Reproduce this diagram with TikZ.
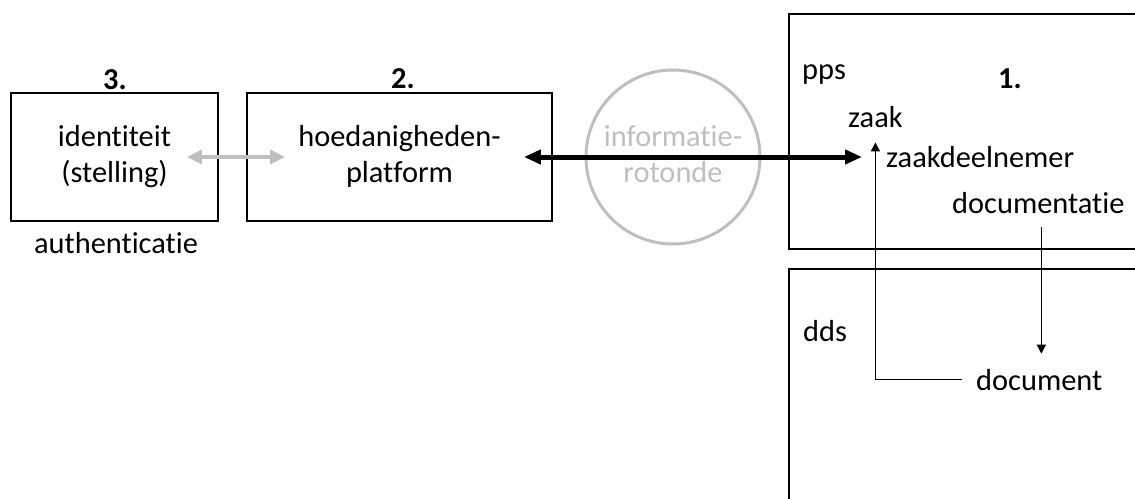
\documentclass[tikz,border=0pt]{standalone}
\usepackage{fontspec}
\setmainfont{Carlito}[Ligatures={NoCommon}]
\usetikzlibrary{arrows.meta,calc}
\definecolor{lgray}{RGB}{191,191,191}
\begin{document}
\begin{tikzpicture}[x=1pt,y=-1pt,
  every node/.style={font=\fontsize{30.4}{36}\selectfont},
  txt/.style={inner sep=0pt},
  box/.style={draw,line width=1.8pt,inner sep=0pt,align=center},
  bigarrow/.style={line width=5pt,{Triangle[length=17pt,width=14pt]}-{Triangle[length=17pt,width=14pt]}},
  greyarrow/.style={lgray,line width=4.5pt,{Triangle[length=15pt,width=14pt]}-{Triangle[length=15pt,width=14pt]}},
  thinarrow/.style={line width=1.5pt,-{Triangle[length=9pt,width=9pt]}}
]
\useasboundingbox (0,0) rectangle (1135,498);
% boxes
\node[box,minimum width=207pt,minimum height=128pt] (b3) at (114.5,157) {\strut identiteit\\\strut (stelling)};
\node[box,minimum width=305pt,minimum height=128pt] (b2) at (399.5,157) {\strut hoedanigheden-\\\strut platform};
\node[box,minimum width=450pt,minimum height=235pt,anchor=north west] (pps) at (788,13) {};
\node[box,minimum width=450pt,minimum height=300pt,anchor=north west] (dds) at (788,268) {};
\node[draw=lgray,line width=3pt,circle,minimum size=174pt,inner sep=0pt,text=lgray,align=center] (rot) at (673,157) {\strut informatie-\\\strut rotonde};
% labels
\node[txt,anchor=base,font=\fontsize{30.4}{36}\selectfont\bfseries] (n3) at (115,89) {3.};
\node[txt,anchor=base,font=\fontsize{30.4}{36}\selectfont\bfseries] (n2) at (403,88) {2.};
\node[txt,anchor=base,font=\fontsize{30.4}{36}\selectfont\bfseries] (n1) at (1010,88) {1.};
\node[txt,anchor=base] (auth) at (116,253) {authenticatie};
\node[txt,anchor=base west] (ppsl) at (802,79) {pps};
\node[txt,anchor=base west] (zaak) at (848,127) {zaak};
\node[txt,anchor=base west] (zdn) at (886,167) {zaakdeelnemer};
\node[txt,anchor=base west] (docu) at (952,213) {documentatie};
\node[txt,anchor=base west] (ddsl) at (803,341) {dds};
\node[txt,anchor=base west] (doc) at (976,390) {document};
% connectors
\coordinate (tipR) at (862,157);
\draw[greyarrow] ([xshift=-32pt]b3.east) -- ([xshift=39pt]b2.west);
\draw[bigarrow] ([xshift=-29pt]b2.east) -- (tipR);
\draw[thinarrow] ([xshift=-14pt]doc.west) -| ([yshift=-15pt]zaak.south);
\draw[thinarrow] ([xshift=3pt,yshift=-14pt]docu.south) -- ($(docu.south |- doc.north)+(3,-15)$);
\end{tikzpicture}
\end{document}
